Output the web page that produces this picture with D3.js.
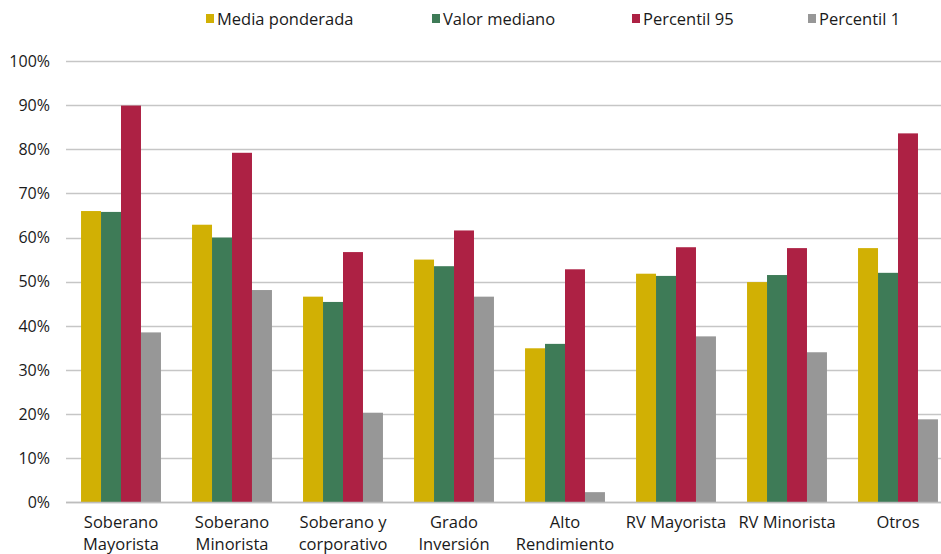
<!DOCTYPE html>
<html>
<head>
<meta charset="utf-8">
<script src="https://cdn.jsdelivr.net/npm/d3@7"></script>
<style>
  body { margin: 0; background: #fff; }
  text { font-family: "Open Sans", "Noto Sans", sans-serif; fill: #1a1a1a; }
</style>
</head>
<body>
<div id="chart"></div>
<script>
// categories (two-line labels)
var categories = ["Soberano Mayorista", "Soberano Minorista", "Soberano y corporativo", "Grado Inversión",
                  "Alto Rendimiento", "RV Mayorista", "RV Minorista", "Otros"];
var labelLines = [["Soberano", "Mayorista"], ["Soberano", "Minorista"], ["Soberano y", "corporativo"], ["Grado", "Inversión"],
                  ["Alto", "Rendimiento"], ["RV Mayorista"], ["RV Minorista"], ["Otros"]];
var seriesNames = ["Media ponderada", "Valor mediano", "Percentil 95", "Percentil 1"];
var seriesColors = ["#d1b004", "#3e7b57", "#ad2144", "#979797"];

// values in %
var mediaPonderada = [66.0, 62.9, 46.6, 55.0, 34.9, 51.8, 49.9, 57.6];
var valorMediano   = [65.8, 60.0, 45.4, 53.5, 35.9, 51.3, 51.5, 52.0];
var percentil95    = [89.9, 79.2, 56.7, 61.6, 52.8, 57.8, 57.6, 83.6];
var percentil1     = [38.5, 48.1, 20.3, 46.6, 2.3, 37.6, 34.0, 18.8];
var yTicks = [0, 10, 20, 30, 40, 50, 60, 70, 80, 90, 100];

var series = [mediaPonderada, valorMediano, percentil95, percentil1];

var W = 941, H = 554;
var svg = d3.select("#chart").append("svg")
  .attr("width", W).attr("height", H);

var x = d3.scaleBand()
  .domain(categories)
  .range([65.5, 953.5])
  .paddingInner(0.28)
  .paddingOuter(0.14);

var xs = d3.scaleBand()
  .domain(seriesNames)
  .range([0, x.bandwidth()]);

var y = d3.scaleLinear()
  .domain([0, 100])
  .range([502.3, 61]);

// grid lines
svg.append("g")
  .selectAll("line")
  .data(yTicks)
  .enter().append("line")
    .attr("x1", 66).attr("x2", W)
    .attr("y1", function(d) { return Math.round(y(d)) + 0.5; })
    .attr("y2", function(d) { return Math.round(y(d)) + 0.5; })
    .attr("stroke", "#c6c6c6")
    .attr("stroke-width", 1.3);

// y labels
svg.append("g")
  .selectAll("text")
  .data(yTicks)
  .enter().append("text")
    .attr("x", 50)
    .attr("y", function(d) { return y(d); })
    .attr("dy", "0.36em")
    .attr("text-anchor", "end")
    .style("font-size", "16px")
    .text(function(d) { return d + "%"; });

// bars
var groups = svg.append("g")
  .selectAll("g")
  .data(categories)
  .enter().append("g")
    .attr("transform", function(d) { return "translate(" + x(d) + ",0)"; });

groups.selectAll("rect")
  .data(function(d, i) {
    return seriesNames.map(function(s, j) { return { key: s, value: series[j][i], color: seriesColors[j] }; });
  })
  .enter().append("rect")
    .attr("x", function(d) { return xs(d.key); })
    .attr("y", function(d) { return y(d.value); })
    .attr("width", xs.bandwidth())
    .attr("height", function(d) { return y(0) - y(d.value); })
    .attr("fill", function(d) { return d.color; });

// baseline
svg.append("line")
  .attr("x1", 66).attr("x2", W)
  .attr("y1", Math.round(y(0)) + 0.5).attr("y2", Math.round(y(0)) + 0.5)
  .attr("stroke", "#bdbdbd").attr("stroke-width", 1.3);

// x labels
var xl = svg.append("g")
  .selectAll("text")
  .data(categories)
  .enter().append("text")
    .attr("text-anchor", "middle")
    .attr("x", function(d) { return x(d) + x.bandwidth() / 2; })
    .attr("y", 528)
    .style("font-size", "16.5px");
xl.each(function(d, i) {
  var t = d3.select(this);
  labelLines[i].forEach(function(line, k) {
    t.append("tspan")
      .attr("x", x(d) + x.bandwidth() / 2)
      .attr("dy", k === 0 ? 0 : 22)
      .text(line);
  });
});

// legend
var legendX = [206, 432, 632, 808];
var legend = svg.append("g")
  .selectAll("g")
  .data(seriesNames)
  .enter().append("g")
    .attr("transform", function(d, i) { return "translate(" + legendX[i] + ",0)"; });
legend.append("rect")
  .attr("x", 0).attr("y", 14)
  .attr("width", 8).attr("height", 9)
  .attr("fill", function(d, i) { return seriesColors[i]; });
legend.append("text")
  .attr("x", 11).attr("y", 25)
  .style("font-size", "16.5px")
  .text(function(d) { return d; });
</script>
</body>
</html>
